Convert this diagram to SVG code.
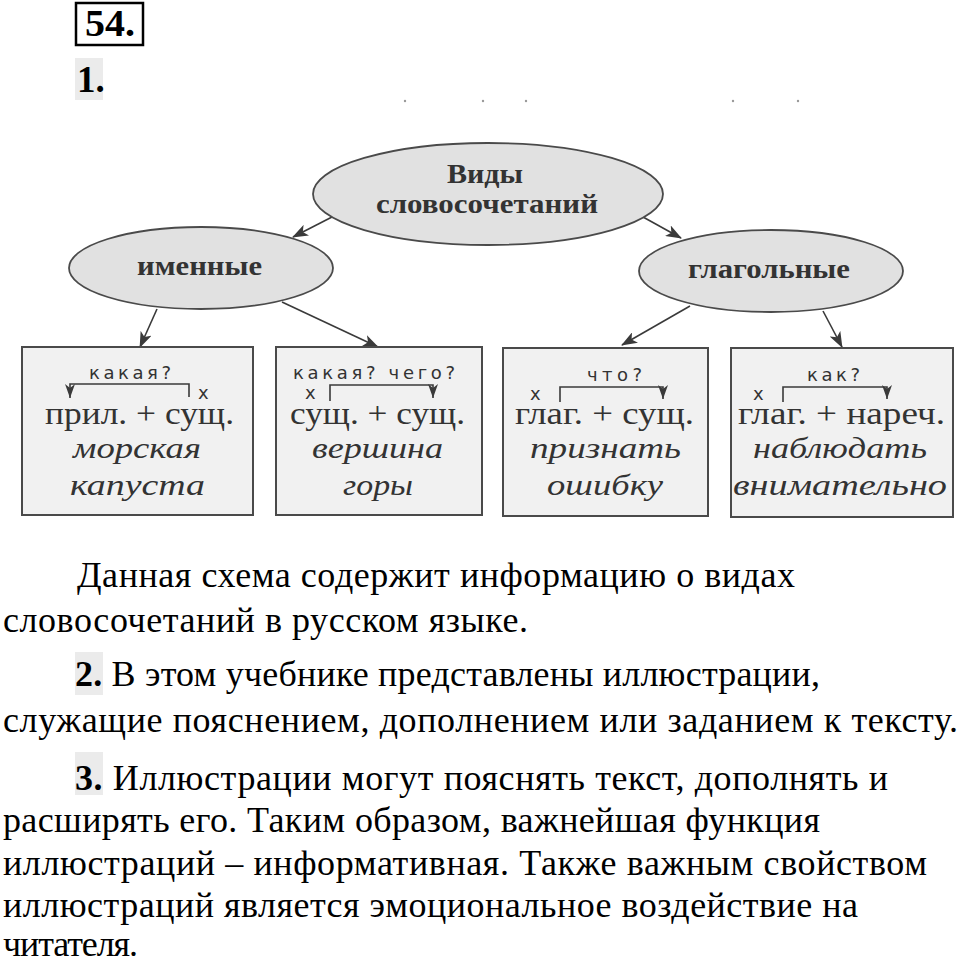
<svg xmlns="http://www.w3.org/2000/svg" width="960" height="958" viewBox="0 0 960 958">
<defs>
<style>
.ell{fill:#e1e1e1;stroke:#4a4a4a;stroke-width:1.8}
.box{fill:#f1f1f1;stroke:#4a4a4a;stroke-width:2}
.conn{fill:none;stroke:#3a3a3a;stroke-width:1.6}
.br{fill:none;stroke:#3a3a3a;stroke-width:1.6}
.eh{font-family:"Liberation Serif","Times New Roman",serif;font-weight:bold;font-size:27px;fill:#333;text-anchor:start}
.q{font-family:"DejaVu Sans","Liberation Sans",sans-serif;font-size:18px;fill:#333}
.f{font-family:"Liberation Serif","Times New Roman",serif;font-size:32px;fill:#333}
.ex{font-family:"Liberation Serif","Times New Roman",serif;font-style:italic;font-size:29px;fill:#333}
.p{font-family:"Liberation Serif","Times New Roman",serif;font-size:36px;fill:#000}
.b{font-weight:bold}
.hl{fill:#ebebeb}
</style>
<marker id="ah" markerUnits="userSpaceOnUse" markerWidth="16" markerHeight="12" viewBox="0 0 16 12" refX="15" refY="6" orient="auto">
<path d="M0,0 L16,6 L0,12 L4,6 z" fill="#3a3a3a"/>
</marker>
<marker id="sa" markerUnits="userSpaceOnUse" markerWidth="10" markerHeight="14" viewBox="0 0 10 14" refX="5" refY="14" orient="0">
<path d="M0,0 L5,4 L10,0 L5,14 z" fill="#3a3a3a"/>
</marker>
</defs>
<rect width="960" height="958" fill="#fff"/>

<g id="header">
<rect x="76" y="3" width="67" height="42" fill="none" stroke="#000" stroke-width="2.5"/>
<text x="85" y="36" font-family="Liberation Serif,serif" font-weight="bold" font-size="37" textLength="50" lengthAdjust="spacingAndGlyphs">54.</text>
<rect class="hl" x="75" y="58" width="28" height="42"/>
<text x="77" y="92" font-family="Liberation Serif,serif" font-weight="bold" font-size="37">1.</text>
<g fill="#999">
<circle cx="405" cy="101" r="1.2"/><circle cx="483" cy="101" r="1.2"/><circle cx="526" cy="101" r="1.2"/><circle cx="733" cy="101" r="1.2"/><circle cx="798" cy="101" r="1.2"/>
</g>
</g>

<g id="connectors">
<line class="conn" x1="332" y1="217" x2="293" y2="237" marker-end="url(#ah)"/>
<line class="conn" x1="643" y1="217" x2="681" y2="238" marker-end="url(#ah)"/>
<line class="conn" x1="157" y1="309" x2="140" y2="347" marker-end="url(#ah)"/>
<line class="conn" x1="282" y1="302" x2="378" y2="347" marker-end="url(#ah)"/>
<line class="conn" x1="690" y1="306" x2="622" y2="345" marker-end="url(#ah)"/>
<line class="conn" x1="823" y1="311" x2="842" y2="347" marker-end="url(#ah)"/>
</g>

<g id="root">
<ellipse class="ell" cx="488" cy="194" rx="175" ry="51"/>
<text class="eh" x="447" y="183" textLength="76" lengthAdjust="spacingAndGlyphs">Виды</text>
<text class="eh" x="376" y="213" textLength="222" lengthAdjust="spacingAndGlyphs">словосочетаний</text>
</g>

<g id="nominal">
<ellipse class="ell" cx="201" cy="268" rx="132" ry="41"/>
<text class="eh" x="137" y="275" textLength="125" lengthAdjust="spacingAndGlyphs">именные</text>
</g>

<g id="verbal">
<ellipse class="ell" cx="771" cy="271" rx="132" ry="41"/>
<text class="eh" x="688" y="278" textLength="162" lengthAdjust="spacingAndGlyphs">глагольные</text>
</g>

<g id="box1">
<rect class="box" x="22" y="347" width="231" height="168"/>
<text class="q" x="89" y="379" textLength="82" lengthAdjust="spacing">какая?</text>
<path class="br" d="M189,397 V384 H70 V398" marker-end="url(#sa)"/>
<text class="q" x="198" y="399">х</text>
<text class="f" x="45" y="424" textLength="189" lengthAdjust="spacingAndGlyphs">прил. + сущ.</text>
<text class="ex" x="73" y="458" textLength="128" lengthAdjust="spacingAndGlyphs">морская</text>
<text class="ex" x="70" y="495" textLength="135" lengthAdjust="spacingAndGlyphs">капуста</text>
</g>

<g id="box2">
<rect class="box" x="276" y="347" width="206" height="168"/>
<text class="q" x="293" y="379" textLength="162" lengthAdjust="spacing">какая? чего?</text>
<text class="q" x="305" y="399">х</text>
<path class="br" d="M330,401 V385 H433 V398" marker-end="url(#sa)"/>
<text class="f" x="290" y="424" textLength="175" lengthAdjust="spacingAndGlyphs">сущ. + сущ.</text>
<text class="ex" x="312" y="458" textLength="131" lengthAdjust="spacingAndGlyphs">вершина</text>
<text class="ex" x="343" y="495" textLength="70" lengthAdjust="spacingAndGlyphs">горы</text>
</g>

<g id="box3">
<rect class="box" x="503" y="348" width="205" height="168"/>
<text class="q" x="587" y="381" textLength="55" lengthAdjust="spacing">что?</text>
<text class="q" x="530" y="400">х</text>
<path class="br" d="M560,402 V387 H663 V399" marker-end="url(#sa)"/>
<text class="f" x="515" y="424" textLength="179" lengthAdjust="spacingAndGlyphs">глаг. + сущ.</text>
<text class="ex" x="530" y="458" textLength="151" lengthAdjust="spacingAndGlyphs">признать</text>
<text class="ex" x="547" y="495" textLength="116" lengthAdjust="spacingAndGlyphs">ошибку</text>
</g>

<g id="box4">
<rect class="box" x="731" y="348" width="222" height="169"/>
<text class="q" x="807" y="381" textLength="53" lengthAdjust="spacing">как?</text>
<text class="q" x="753" y="400">х</text>
<path class="br" d="M783,402 V387 H887 V399" marker-end="url(#sa)"/>
<text class="f" x="738" y="424" textLength="207" lengthAdjust="spacingAndGlyphs">глаг. + нареч.</text>
<text class="ex" x="753" y="458" textLength="174" lengthAdjust="spacingAndGlyphs">наблюдать</text>
<text class="ex" x="733" y="495" textLength="214" lengthAdjust="spacingAndGlyphs">внимательно</text>
</g>

<g id="paragraphs">
<rect class="hl" x="75" y="652" width="28" height="43"/>
<rect class="hl" x="75" y="752" width="28" height="43"/>
<text class="p" x="77" y="587" textLength="718" lengthAdjust="spacing">Данная схема содержит информацию о видах</text>
<text class="p" x="3" y="632" textLength="525" lengthAdjust="spacing">словосочетаний в русском языке.</text>
<text class="p" x="75" y="686" textLength="745" lengthAdjust="spacing"><tspan class="b">2.</tspan> В этом учебнике представлены иллюстрации,</text>
<text class="p" x="3" y="732" textLength="955" lengthAdjust="spacing">служащие пояснением, дополнением или заданием к тексту.</text>
<text class="p" x="75" y="790" textLength="813" lengthAdjust="spacing"><tspan class="b">3.</tspan> Иллюстрации могут пояснять текст, дополнять и</text>
<text class="p" x="3" y="832" textLength="817" lengthAdjust="spacing">расширять его. Таким образом, важнейшая функция</text>
<text class="p" x="3" y="875" textLength="924" lengthAdjust="spacing">иллюстраций – информативная. Также важным свойством</text>
<text class="p" x="3" y="917" textLength="855" lengthAdjust="spacing">иллюстраций является эмоциональное воздействие на</text>
<text class="p" x="3" y="956" textLength="135" lengthAdjust="spacing">читателя.</text>
</g>
</svg>
